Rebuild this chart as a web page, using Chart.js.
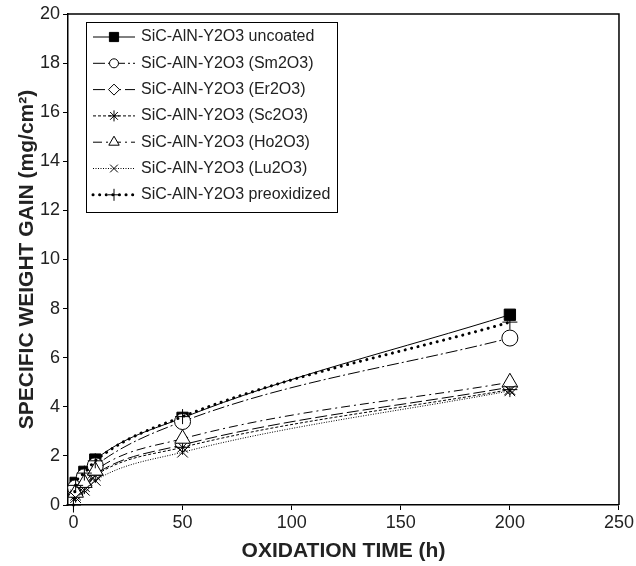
<!DOCTYPE html>
<html>
<head>
<meta charset="utf-8">
<script src="https://cdn.jsdelivr.net/npm/chart.js@4"></script>
<style>
  body { margin: 0; background: #fff; }
  canvas { display: block; }
</style>
</head>
<body>
<canvas id="gainChart" width="636" height="566"></canvas>
<script>
// Oxidation times (h)
const hours = [1, 5, 10, 50, 200];
const preoxHours = [0, 1, 5, 10, 50, 200];

// Specific weight gain (mg/cm2)
const uncoated = [0.9, 1.35, 1.85, 3.55, 7.75];
const sm2o3 = [0.7, 1.15, 1.6, 3.4, 6.8];
const er2o3 = [0.45, 0.8, 1.25, 2.45, 4.8];
const sc2o3 = [0.4, 0.75, 1.2, 2.35, 4.7];
const ho2o3 = [0.5, 0.9, 1.4, 2.7, 5.0];
const lu2o3 = [0.3, 0.6, 1.0, 2.15, 4.65];
const preoxidized = [0, 0.8, 1.3, 1.8, 3.6, 7.45];

const seriesLabels = [
  'SiC-AlN-Y2O3 uncoated',
  'SiC-AlN-Y2O3 (Sm2O3)',
  'SiC-AlN-Y2O3 (Er2O3)',
  'SiC-AlN-Y2O3 (Sc2O3)',
  'SiC-AlN-Y2O3 (Ho2O3)',
  'SiC-AlN-Y2O3 (Lu2O3)',
  'SiC-AlN-Y2O3 preoxidized'
];

const xTicks = [0, 50, 100, 150, 200, 250];
const yTicks = [0, 2, 4, 6, 8, 10, 12, 14, 16, 18, 20];

const FONT = "'Liberation Sans', Arial, Helvetica, sans-serif";

function pts(xs, ys) {
  return xs.map((x, i) => ({ x: x, y: ys[i] }));
}

// one style entry per series: marker, line dash
function makeSet(label, data, style) {
  return Object.assign({
    label: label,
    data: data,
    borderColor: '#000',
    backgroundColor: '#fff',
    pointBorderColor: '#000',
    pointBackgroundColor: '#fff',
    borderWidth: 1,
    pointBorderWidth: 1,
    cubicInterpolationMode: 'monotone',
    clip: false,
    fill: false
  }, style);
}

const datasets = [
  makeSet(seriesLabels[0], pts(hours, uncoated), { pointStyle: 'rect', pointRadius: 8, pointBackgroundColor: '#000', legendRadius: 6.5, order: 7 }),
  makeSet(seriesLabels[1], pts(hours, sm2o3), { pointStyle: 'circle', pointRadius: 8, borderDash: [12, 3, 2, 3], legendRadius: 4.5, order: 6 }),
  makeSet(seriesLabels[2], pts(hours, er2o3), { pointStyle: 'rectRot', pointRadius: 7.5, borderDash: [12, 4], legendRadius: 5.5, order: 5 }),
  makeSet(seriesLabels[3], pts(hours, sc2o3), { pointStyle: 'star', pointRadius: 7.5, borderDash: [3, 2], legendRadius: 5.5, order: 4 }),
  makeSet(seriesLabels[4], pts(hours, ho2o3), { pointStyle: 'triangle', pointRadius: 9, borderDash: [9, 4, 2, 4], legendRadius: 6, order: 3 }),
  makeSet(seriesLabels[5], pts(hours, lu2o3), { pointStyle: 'crossRot', pointRadius: 7.5, borderDash: [1, 1.5], legendRadius: 5.5, order: 2 }),
  makeSet(seriesLabels[6], pts(preoxHours, preoxidized), { pointStyle: 'cross', pointRadius: 7.5, borderWidth: 3, borderDash: [0.1, 6.5], borderCapStyle: 'round', legendRadius: 6, order: 1 })
];

// legend drawn inside the plot, like the original figure
const insideLegend = {
  id: 'insideLegend',
  afterDraw(chart) {
    const ctx = chart.ctx;
    const area = chart.chartArea;
    const left = area.left + 18, top = area.top + 8;
    const w = 251, h = 190, rowH = 26.3;
    ctx.save();
    ctx.fillStyle = '#fff';
    ctx.fillRect(left, top, w, h);
    ctx.strokeStyle = '#000';
    ctx.lineWidth = 1;
    ctx.strokeRect(left + 0.5, top + 0.5, w, h);
    chart.data.datasets.forEach((ds, i) => {
      const y = top + 15 + i * rowH;
      const x0 = left + 7, x1 = left + 49, xm = (x0 + x1) / 2;
      ctx.save();
      ctx.strokeStyle = '#000';
      ctx.lineWidth = ds.borderWidth;
      ctx.lineCap = ds.borderCapStyle || 'butt';
      ctx.setLineDash(ds.borderDash || []);
      ctx.beginPath();
      ctx.moveTo(x0, y);
      ctx.lineTo(x1, y);
      ctx.stroke();
      ctx.restore();
      ctx.save();
      ctx.strokeStyle = '#000';
      ctx.fillStyle = ds.pointBackgroundColor;
      ctx.lineWidth = 1;
      Chart.helpers.drawPoint(ctx, { pointStyle: ds.pointStyle, radius: ds.legendRadius, rotation: 0, borderWidth: 1 }, xm, y);
      ctx.restore();
      ctx.fillStyle = '#222';
      ctx.font = '16px ' + FONT;
      ctx.textBaseline = 'middle';
      ctx.textAlign = 'left';
      ctx.fillText(ds.label, left + 55, y);
    });
    // top and right frame of the plot
    ctx.strokeStyle = '#000';
    ctx.lineWidth = 1.5;
    ctx.beginPath();
    ctx.moveTo(area.left, area.top);
    ctx.lineTo(area.right, area.top);
    ctx.lineTo(area.right, area.bottom);
    ctx.stroke();
    ctx.restore();
  }
};

const ctx = document.getElementById('gainChart').getContext('2d');

const gainChart = new Chart(ctx, {
  type: 'line',
  data: { datasets: datasets },
  options: {
    responsive: false,
    animation: false,
    layout: { padding: { top: 14, right: 17, left: 0, bottom: 0 } },
    plugins: {
      legend: { display: false },
      tooltip: { enabled: false }
    },
    scales: {
      x: {
        type: 'linear',
        min: -2.5,
        max: 250,
        afterBuildTicks: (scale) => { scale.ticks = xTicks.map(v => ({ value: v })); },
        afterFit: (scale) => { scale.height = 61; },
        grid: { drawOnChartArea: false, drawTicks: true, tickLength: 5, color: '#000', lineWidth: 1 },
        border: { display: true, color: '#000', width: 1.5 },
        ticks: { color: '#222', padding: 2, font: { family: FONT, size: 18 }, maxRotation: 0 },
        title: { display: true, text: 'OXIDATION TIME (h)', color: '#222', padding: { top: 2, bottom: 2.5 }, font: { family: FONT, size: 21, weight: 'bold' } }
      },
      y: {
        type: 'linear',
        min: 0,
        max: 20,
        afterBuildTicks: (scale) => { scale.ticks = yTicks.map(v => ({ value: v })); },
        afterFit: (scale) => { scale.width = 68; },
        grid: { drawOnChartArea: false, drawTicks: true, tickLength: 5, color: '#000', lineWidth: 1 },
        border: { display: true, color: '#000', width: 1.5 },
        ticks: { color: '#222', padding: 3, font: { family: FONT, size: 18 } },
        title: { display: true, text: 'SPECIFIC WEIGHT GAIN (mg/cm\u00B2)', color: '#222', padding: { top: 15, bottom: 2 }, font: { family: FONT, size: 21, weight: 'bold' } }
      }
    }
  },
  plugins: [insideLegend]
});
</script>
</body>
</html>
